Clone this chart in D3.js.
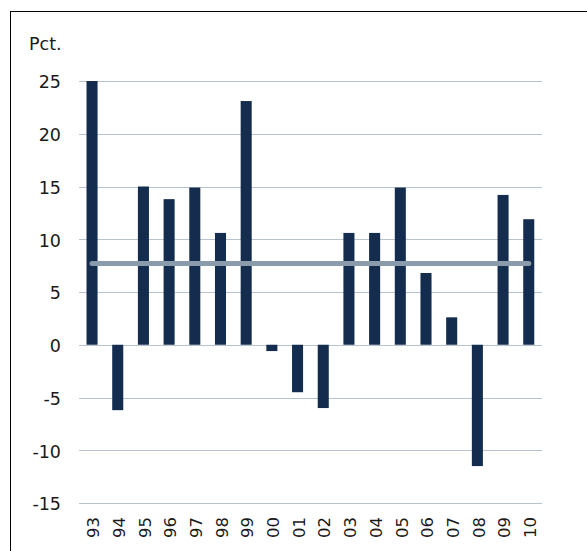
<!DOCTYPE html>
<html><head><meta charset="utf-8">
<script src="https://cdn.jsdelivr.net/npm/d3@7/dist/d3.min.js"></script>
<style>html,body{margin:0;padding:0;background:#fff;}svg{display:block;}</style>
</head><body>
<script>
const categories = ["93","94","95","96","97","98","99","00","01","02","03","04","05","06","07","08","09","10"];
const values = [25, -6.2, 15, 13.8, 14.9, 10.6, 23.1, -0.6, -4.5, -6.0, 10.6, 10.6, 14.9, 6.8, 2.6, -11.5, 14.2, 11.9];
const average = 7.7;
const yTicks = [25, 20, 15, 10, 5, 0, -5, -10, -15];
const unitLabel = "Pct.";

const W = 587, H = 551;
const svg = d3.select("body").append("svg").attr("width", W).attr("height", H);
const font = "'DejaVu Sans', Verdana, sans-serif";

// frame
svg.append("line").attr("x1", 10).attr("x2", W).attr("y1", 11.5).attr("y2", 11.5).attr("stroke", "#000").attr("stroke-width", 1);
svg.append("line").attr("x1", 10.5).attr("x2", 10.5).attr("y1", 11).attr("y2", H).attr("stroke", "#000").attr("stroke-width", 1);

const x = d3.scaleBand().domain(categories).range([79.2, 541.6]).paddingInner(0.57).paddingOuter(0.285);
const y = d3.scaleLinear().domain([-15, 25]).range([503, 81]);

// gridlines
svg.append("g").selectAll("line").data(yTicks).join("line")
  .attr("x1", 79).attr("x2", 542)
  .attr("y1", d => Math.round(y(d)) + 0.5).attr("y2", d => Math.round(y(d)) + 0.5)
  .attr("stroke", "#b7c4cf").attr("stroke-width", 1);

// y labels
svg.append("g").selectAll("text").data(yTicks).join("text")
  .attr("x", 61).attr("y", d => y(d) + 7.3)
  .attr("text-anchor", "end")
  .attr("font-family", font).attr("font-size", 17.5).attr("fill", "#1a1a1a")
  .text(d => d);

svg.append("text").attr("x", 29).attr("y", 49.5).attr("font-family", font).attr("font-size", 17.5).attr("fill", "#1a1a1a").text(unitLabel);

// bars
svg.append("g").selectAll("rect").data(values).join("rect")
  .attr("x", (d, i) => x(categories[i]))
  .attr("width", x.bandwidth())
  .attr("y", d => y(Math.max(0, d)))
  .attr("height", d => Math.abs(y(d) - y(0)))
  .attr("fill", "#142d4f");

// average line
svg.append("line")
  .attr("x1", x(categories[0]) + x.bandwidth() / 2)
  .attr("x2", x(categories[categories.length - 1]) + x.bandwidth() / 2)
  .attr("y1", y(average)).attr("y2", y(average))
  .attr("stroke", "#8a9bab").attr("stroke-width", 5).attr("stroke-linecap", "round");

// x labels
svg.append("g").selectAll("text").data(categories).join("text")
  .attr("transform", d => `translate(${x(d) + x.bandwidth() / 2 + 7.2},517) rotate(-90)`)
  .attr("text-anchor", "end")
  .attr("font-family", font).attr("font-size", 16.5).attr("fill", "#1a1a1a")
  .text(d => d);
</script>
</body></html>
